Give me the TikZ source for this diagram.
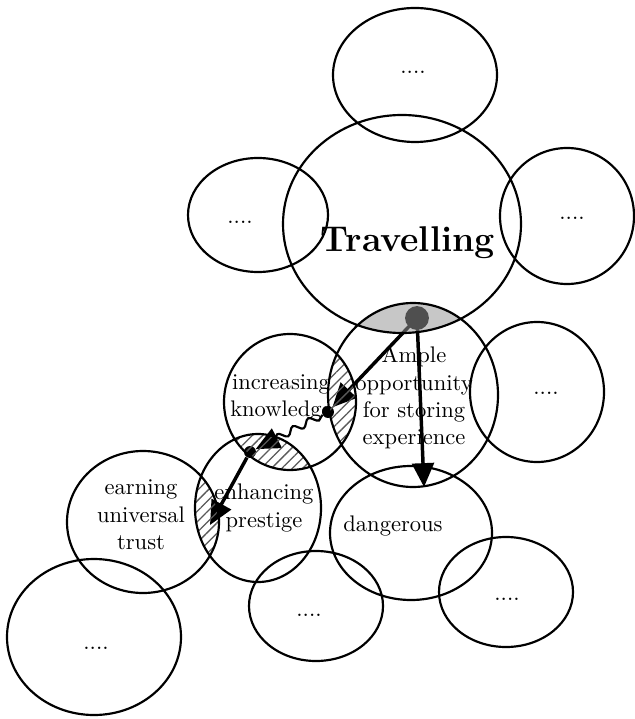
\documentclass[tikz,border=0pt]{standalone}
\usepackage{tikz}
\usetikzlibrary{arrows.meta,patterns.meta,decorations.pathmorphing}

% outlines of the bubbles
\def\toppath{(top) ellipse [x radius=82, y radius=67]}
\def\travpath{(trav) ellipse [x radius=119, y radius=109]}
\def\leftpath{(lft) ellipse [x radius=70, y radius=57]}
\def\rightpath{(rgt) ellipse [x radius=67, y radius=68]}
\def\amplepath{(ample) ellipse [x radius=85, y radius=92]}
\def\knowpath{(know) ellipse [x radius=66, y radius=68]}
\def\midpath{(mid) ellipse [x radius=67, y radius=70]}
\def\prespath{(pres) ellipse [x radius=63, y radius=74]}
\def\earnpath{(earn) ellipse [x radius=76, y radius=71]}
\def\dangpath{(dang) ellipse [x radius=81, y radius=67]}
\def\brpath{(br) ellipse [x radius=67, y radius=55]}
\def\bmpath{(bm) ellipse [x radius=67, y radius=55]}
\def\blpath{(bl) ellipse [x radius=87, y radius=78]}

\begin{document}
\begin{tikzpicture}[x=0.0162cm, y=-0.0162cm,
    bubble/.style={line width=1pt},
    link/.style={line width=1.6pt, -{Triangle[length=11pt,width=10pt]}},
    knot/.style={circle, fill=black, inner sep=0pt, minimum size=5.5pt},
    hatch/.style={pattern={Lines[angle=45, distance=3.4pt, line width=.6pt]}, pattern color=black!65},
    txt/.style={align=center, inner sep=0pt, font=\fontsize{10.4}{12.6}\selectfont}]
  \useasboundingbox (0,0) rectangle (634,719);
  \coordinate (top) at (415,75);
  \coordinate (trav) at (402,224);
  \coordinate (lft) at (258,215);
  \coordinate (rgt) at (567,216);
  \coordinate (ample) at (413,395);
  \coordinate (know) at (290,402);
  \coordinate (mid) at (537,392);
  \coordinate (pres) at (258,508);
  \coordinate (earn) at (143,522);
  \coordinate (dang) at (411,533);
  \coordinate (br) at (506,592);
  \coordinate (bm) at (316,606);
  \coordinate (bl) at (94,637);

  % texts
  \node[txt] (ttop) at (413,72) {....};
  \node[txt] (tlft) at (240,222) {....};
  \node[txt] (trgt) at (572,218) {....};
  \node[txt, font=\fontsize{16.5}{20}\selectfont\bfseries] (ttrav) at (408,243) {Travelling};
  \node[txt] (tample) at (414,398) {Ample\\opportunity\\for storing\\experience};
  \node[txt] (tknow) at (281,398) {increasing\\knowledge};
  \node[txt] (tmid) at (546,393) {....};
  \node[txt] (tearn) at (141,515) {earning\\universal\\trust};
  \node[txt] (tpres) at (264,508) {enhancing\\prestige};
  \node[txt] (tdang) at (393,526) {dangerous};
  \node[txt] (tbr) at (507,599) {....};
  \node[txt] (tbm) at (309,615) {....};
  \node[txt] (tbl) at (96,648) {....};

  % arrows
  \node[circle, fill=black, inner sep=0pt, minimum size=11pt] (dot) at (417,318) {};
  \node[knot] (k1) at (328,412) {};
  \node[knot] (k2) at (250,452) {};
  \coordinate (dangtop) at (424,487);
  \coordinate (earnend) at (210,525);
  \draw[link] (dot.center) -- (dangtop);
  \draw[link] (dot.center) -- (k1);
  \draw[link, line width=1pt, decorate, decoration={snake, amplitude=1.6pt, segment length=8pt, post length=6pt}] (k1) -- (k2);
  \draw[link] (k2) -- (earnend);

  % shaded and hatched overlaps
  \begin{scope}
    \clip \travpath;
    \fill[black!41, fill opacity=.53] \amplepath;
  \end{scope}
  \begin{scope}
    \clip \knowpath;
    \fill[hatch] \amplepath;
  \end{scope}
  \begin{scope}
    \clip \knowpath;
    \fill[hatch] \prespath;
  \end{scope}
  \begin{scope}
    \clip \prespath;
    \fill[hatch] \earnpath;
  \end{scope}

  \draw[bubble] \toppath \travpath \leftpath \rightpath \amplepath \knowpath
    \midpath \prespath \earnpath \dangpath \brpath \bmpath \blpath;
\end{tikzpicture}
\end{document}
